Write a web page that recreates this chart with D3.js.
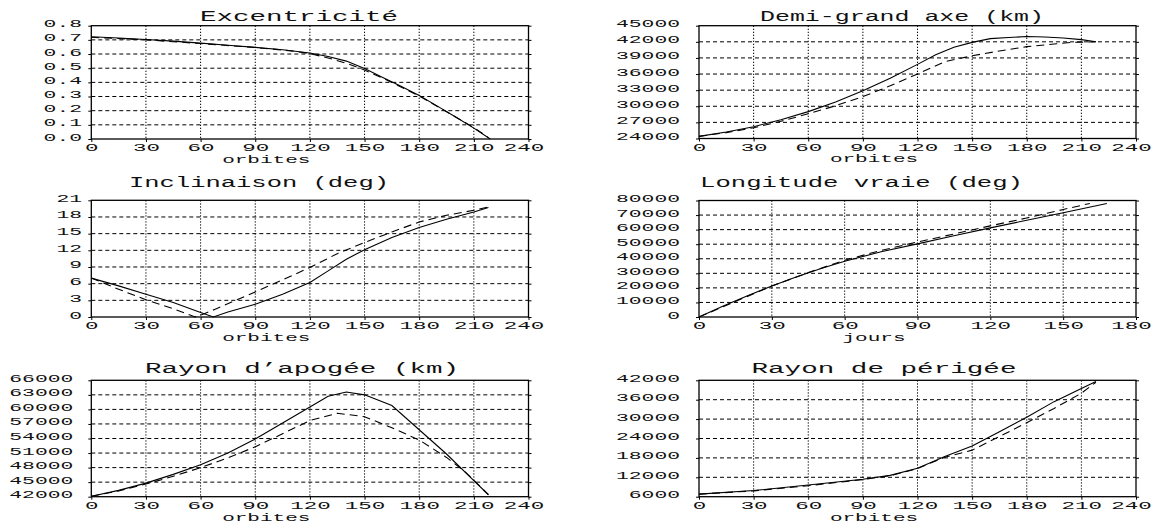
<!DOCTYPE html>
<html><head><meta charset="utf-8">
<script src="https://cdn.jsdelivr.net/npm/d3@7"></script>
<style>
body{margin:0;background:#fff}
svg{display:block}
text{font-family:"Liberation Mono",monospace;fill:#111}
</style>
</head><body>
<svg id="chart" width="1152" height="525"></svg>
<script>
// ---------- data ----------
const titles = ["Excentricité","Demi-grand axe (km)","Inclinaison (deg)","Longitude vraie (deg)","Rayon d\u2019apogée (km)","Rayon de périgée"];
const xLabels = ["orbites","orbites","orbites","jours","orbites","orbites"];

const orbitTicks = [0,30,60,90,120,150,180,210,240];
const dayTicks = [0,30,60,90,120,150,180];

const excTicks = [0,0.1,0.2,0.3,0.4,0.5,0.6,0.7,0.8];
const excX = [0,15,30,45,60,75,90,105,120,130,140,150,160,170,180,190,200,210,219];
const excSolid = [0.722,0.713,0.703,0.691,0.677,0.662,0.647,0.630,0.607,0.583,0.550,0.497,0.435,0.372,0.307,0.232,0.155,0.077,0.0];
const excDX = [0,30,60,90,110,120,130,140,150,160,170,180,190,200,210,218];
const excDashed = [0.718,0.700,0.674,0.646,0.622,0.603,0.572,0.535,0.487,0.430,0.368,0.303,0.230,0.155,0.080,0.010];

const dgaTicks = [24000,27000,30000,33000,36000,39000,42000,45000];
const dgaX = [0,15,30,45,60,75,90,105,120,130,140,150,160,170,180,190,200,210,218];
const dgaSolid = [24400,25200,26200,27500,29000,30800,32900,35200,37800,39600,41000,41900,42600,42800,43000,42900,42700,42400,42000];
const dgaDX = [0,15,30,45,60,75,90,105,120,135,150,165,180,195,205,218];
const dgaDashed = [24400,25100,26000,27200,28600,30100,31800,33800,36000,38300,39400,40300,41100,41600,41900,42000];

const incTicks = [0,3,6,9,12,15,18,21];
const incX = [0,15,30,45,60,67,75,90,105,120,130,140,150,165,180,195,210,218];
const incSolid = [7.0,5.6,4.1,2.6,0.8,0.0,0.9,2.3,4.1,6.2,8.3,10.4,12.1,14.3,16.1,17.6,18.9,19.7];
const incDX = [0,15,30,45,57,62,68,80,90,105,120,135,150,165,180,195,210,218];
const incDashed = [7.0,5.0,3.1,1.5,0.0,0.6,1.4,3.1,4.5,6.7,8.9,11.4,13.4,15.3,17.1,18.3,19.2,19.8];

const lonTicks = [0,10000,20000,30000,40000,50000,60000,70000,80000];
const lonX = [0,10,20,30,40,50,60,75,90,105,120,135,150,168];
const lonSolid = [0,7600,14600,21300,27500,33200,38300,44800,50200,55800,61200,66400,71600,78000];
const lonDX = [0,30,45,60,75,90,105,120,135,150,161];
const lonDashed = [0,21300,30500,39000,45700,51500,57000,62600,68000,73800,78000];

const apoTicks = [42000,45000,48000,51000,54000,57000,60000,63000,66000];
const apoX = [0,15,30,45,60,75,90,105,120,130,140,150,165,180,195,210,218];
const apoSolid = [42100,43300,44800,46600,48600,51000,53900,57200,60500,62700,63600,63000,60800,55800,50800,45300,42400];
const apoDX = [0,15,30,45,60,75,90,105,120,135,150,165,180,195,205,210,218];
const apoDashed = [42100,43200,44600,46200,48000,50000,52300,55000,57700,59200,58500,56200,53700,50100,47200,45400,42400];

const periTicks = [6000,12000,18000,24000,30000,36000,42000];
const periX = [0,30,60,90,105,120,135,150,165,180,195,210,218];
const periSolid = [6800,7900,9600,11400,12600,14800,18400,21700,26100,30600,35400,39500,41600];
const periDX = [0,30,60,90,105,120,135,150,165,180,195,210,218];
const periDashed = [6800,7800,9400,11300,12500,14700,18200,20400,24600,28900,33300,38000,41400];

// ---------- panels (data refs + layout) ----------
const zip = (xs, ys) => xs.map((v, i) => [v, ys[i]]);
const panels = [
  {title: titles[0], xl: xLabels[0], xT: orbitTicks, yT: excTicks, fmt: d3.format(".1f"),
   solid: zip(excX, excSolid), dashed: zip(excDX, excDashed),
   L: 91.3, R: 528.5, T: 25.7, B: 139, lab: 82, tc: 299, tw: 198, tb: 20.5, xlb: 23.5},
  {title: titles[1], xl: xLabels[1], xT: orbitTicks, yT: dgaTicks, fmt: d3.format("d"),
   solid: zip(dgaX, dgaSolid), dashed: zip(dgaDX, dgaDashed),
   L: 699, R: 1136, T: 25.7, B: 138.5, lab: 680, tc: 902, tw: 284, tb: 20.5, xlb: 23.5},
  {title: titles[2], xl: xLabels[2], xT: orbitTicks, yT: incTicks, fmt: d3.format("d"),
   solid: zip(incX, incSolid), dashed: zip(incDX, incDashed),
   L: 91.3, R: 528.5, T: 200.3, B: 317, lab: 82, tc: 259, tw: 260, tb: 187.3, xlb: 23.5},
  {title: titles[3], xl: xLabels[3], xT: dayTicks, yT: lonTicks, fmt: d3.format("d"),
   solid: zip(lonX, lonSolid), dashed: zip(lonDX, lonDashed),
   L: 699, R: 1136, T: 200.5, B: 317, lab: 680, tc: 861.5, tw: 323, tb: 187.3, xlb: 23.5},
  {title: titles[4], xl: xLabels[4], xT: orbitTicks, yT: apoTicks, fmt: d3.format("d"),
   solid: zip(apoX, apoSolid), dashed: zip(apoDX, apoDashed),
   L: 91.3, R: 528.5, T: 380.3, B: 496.7, lab: 73.3, tc: 302, tw: 314, tb: 373.3, xlb: 24.5},
  {title: titles[5], xl: xLabels[5], xT: orbitTicks, yT: periTicks, fmt: d3.format("d"),
   solid: zip(periX, periSolid), dashed: zip(periDX, periDashed),
   L: 699, R: 1136, T: 380.3, B: 496.7, lab: 680, tc: 884, tw: 265, tb: 373.3, xlb: 24.5}
];

const svg = d3.select("#chart");
const ADV = 12.8;

panels.forEach(p => {
  const g = svg.append("g");
  const x = d3.scaleLinear().domain([p.xT[0], p.xT[p.xT.length - 1]]).range([p.L, p.R]);
  const y = d3.scaleLinear().domain([p.yT[0], p.yT[p.yT.length - 1]]).range([p.B, p.T]);

  // grid
  g.append("g").selectAll("line").data(p.yT.slice(1, -1)).join("line")
    .attr("x1", p.L).attr("x2", p.R).attr("y1", d => y(d)).attr("y2", d => y(d))
    .attr("stroke", "#000").attr("stroke-width", 1).attr("stroke-dasharray", "4,3");
  g.append("g").selectAll("line").data(p.xT.slice(1, -1)).join("line")
    .attr("y1", p.T).attr("y2", p.B).attr("x1", d => x(d)).attr("x2", d => x(d))
    .attr("stroke", "#000").attr("stroke-width", 1).attr("stroke-dasharray", "1.3,1.7");

  // series
  const line = d3.line().x(d => x(d[0])).y(d => y(d[1]));
  g.append("path").attr("d", line(p.dashed)).attr("fill", "none")
    .attr("stroke", "#000").attr("stroke-width", 1.1).attr("stroke-dasharray", "8,5");
  g.append("path").attr("d", line(p.solid)).attr("fill", "none")
    .attr("stroke", "#000").attr("stroke-width", 1.1);

  // axes
  const yAx = g.append("g").attr("transform", `translate(${p.L},0)`)
    .call(d3.axisLeft(y).tickValues(p.yT).tickFormat(p.fmt).tickSize(3).tickSizeOuter(0)
      .tickPadding(p.L - p.lab - 3));
  yAx.attr("font-family", null).attr("font-size", null);
  yAx.select(".domain").remove();
  yAx.selectAll("text").attr("dy", 1).attr("font-size", 11)
    .attr("textLength", d => p.fmt(d).length * ADV).attr("lengthAdjust", "spacingAndGlyphs");

  const yAxR = g.append("g").attr("transform", `translate(${p.R},0)`)
    .call(d3.axisRight(y).tickValues(p.yT).tickFormat("").tickSize(3).tickSizeOuter(0));
  yAxR.select(".domain").remove();

  const lastX = p.xT[p.xT.length - 1];
  const xAx = g.append("g").attr("transform", `translate(0,${p.B})`)
    .call(d3.axisBottom(x).tickValues(p.xT).tickFormat(d3.format("d")).tickSize(3).tickSizeOuter(0));
  xAx.attr("font-family", null).attr("font-size", null);
  xAx.select(".domain").remove();
  xAx.selectAll("text").attr("y", 12).attr("dy", 0).attr("font-size", 11)
    .attr("x", d => d === lastX ? -5 : 0)
    .attr("textLength", d => String(d).length * 13.5).attr("lengthAdjust", "spacingAndGlyphs");

  // frame
  g.append("rect").attr("x", p.L).attr("y", p.T).attr("width", p.R - p.L).attr("height", p.B - p.T)
    .attr("fill", "none").attr("stroke", "#000").attr("stroke-width", 1.3);

  // titles
  g.append("text").attr("x", p.tc).attr("y", p.tb).attr("text-anchor", "middle")
    .attr("font-size", 15.5).attr("textLength", p.tw).attr("lengthAdjust", "spacingAndGlyphs")
    .text(p.title);
  g.append("text").attr("x", p.L + 175).attr("y", p.B + p.xlb).attr("text-anchor", "middle")
    .attr("font-size", 11.5).attr("textLength", p.xl.length * 12.6).attr("lengthAdjust", "spacingAndGlyphs")
    .text(p.xl);
});
</script>
</body></html>
